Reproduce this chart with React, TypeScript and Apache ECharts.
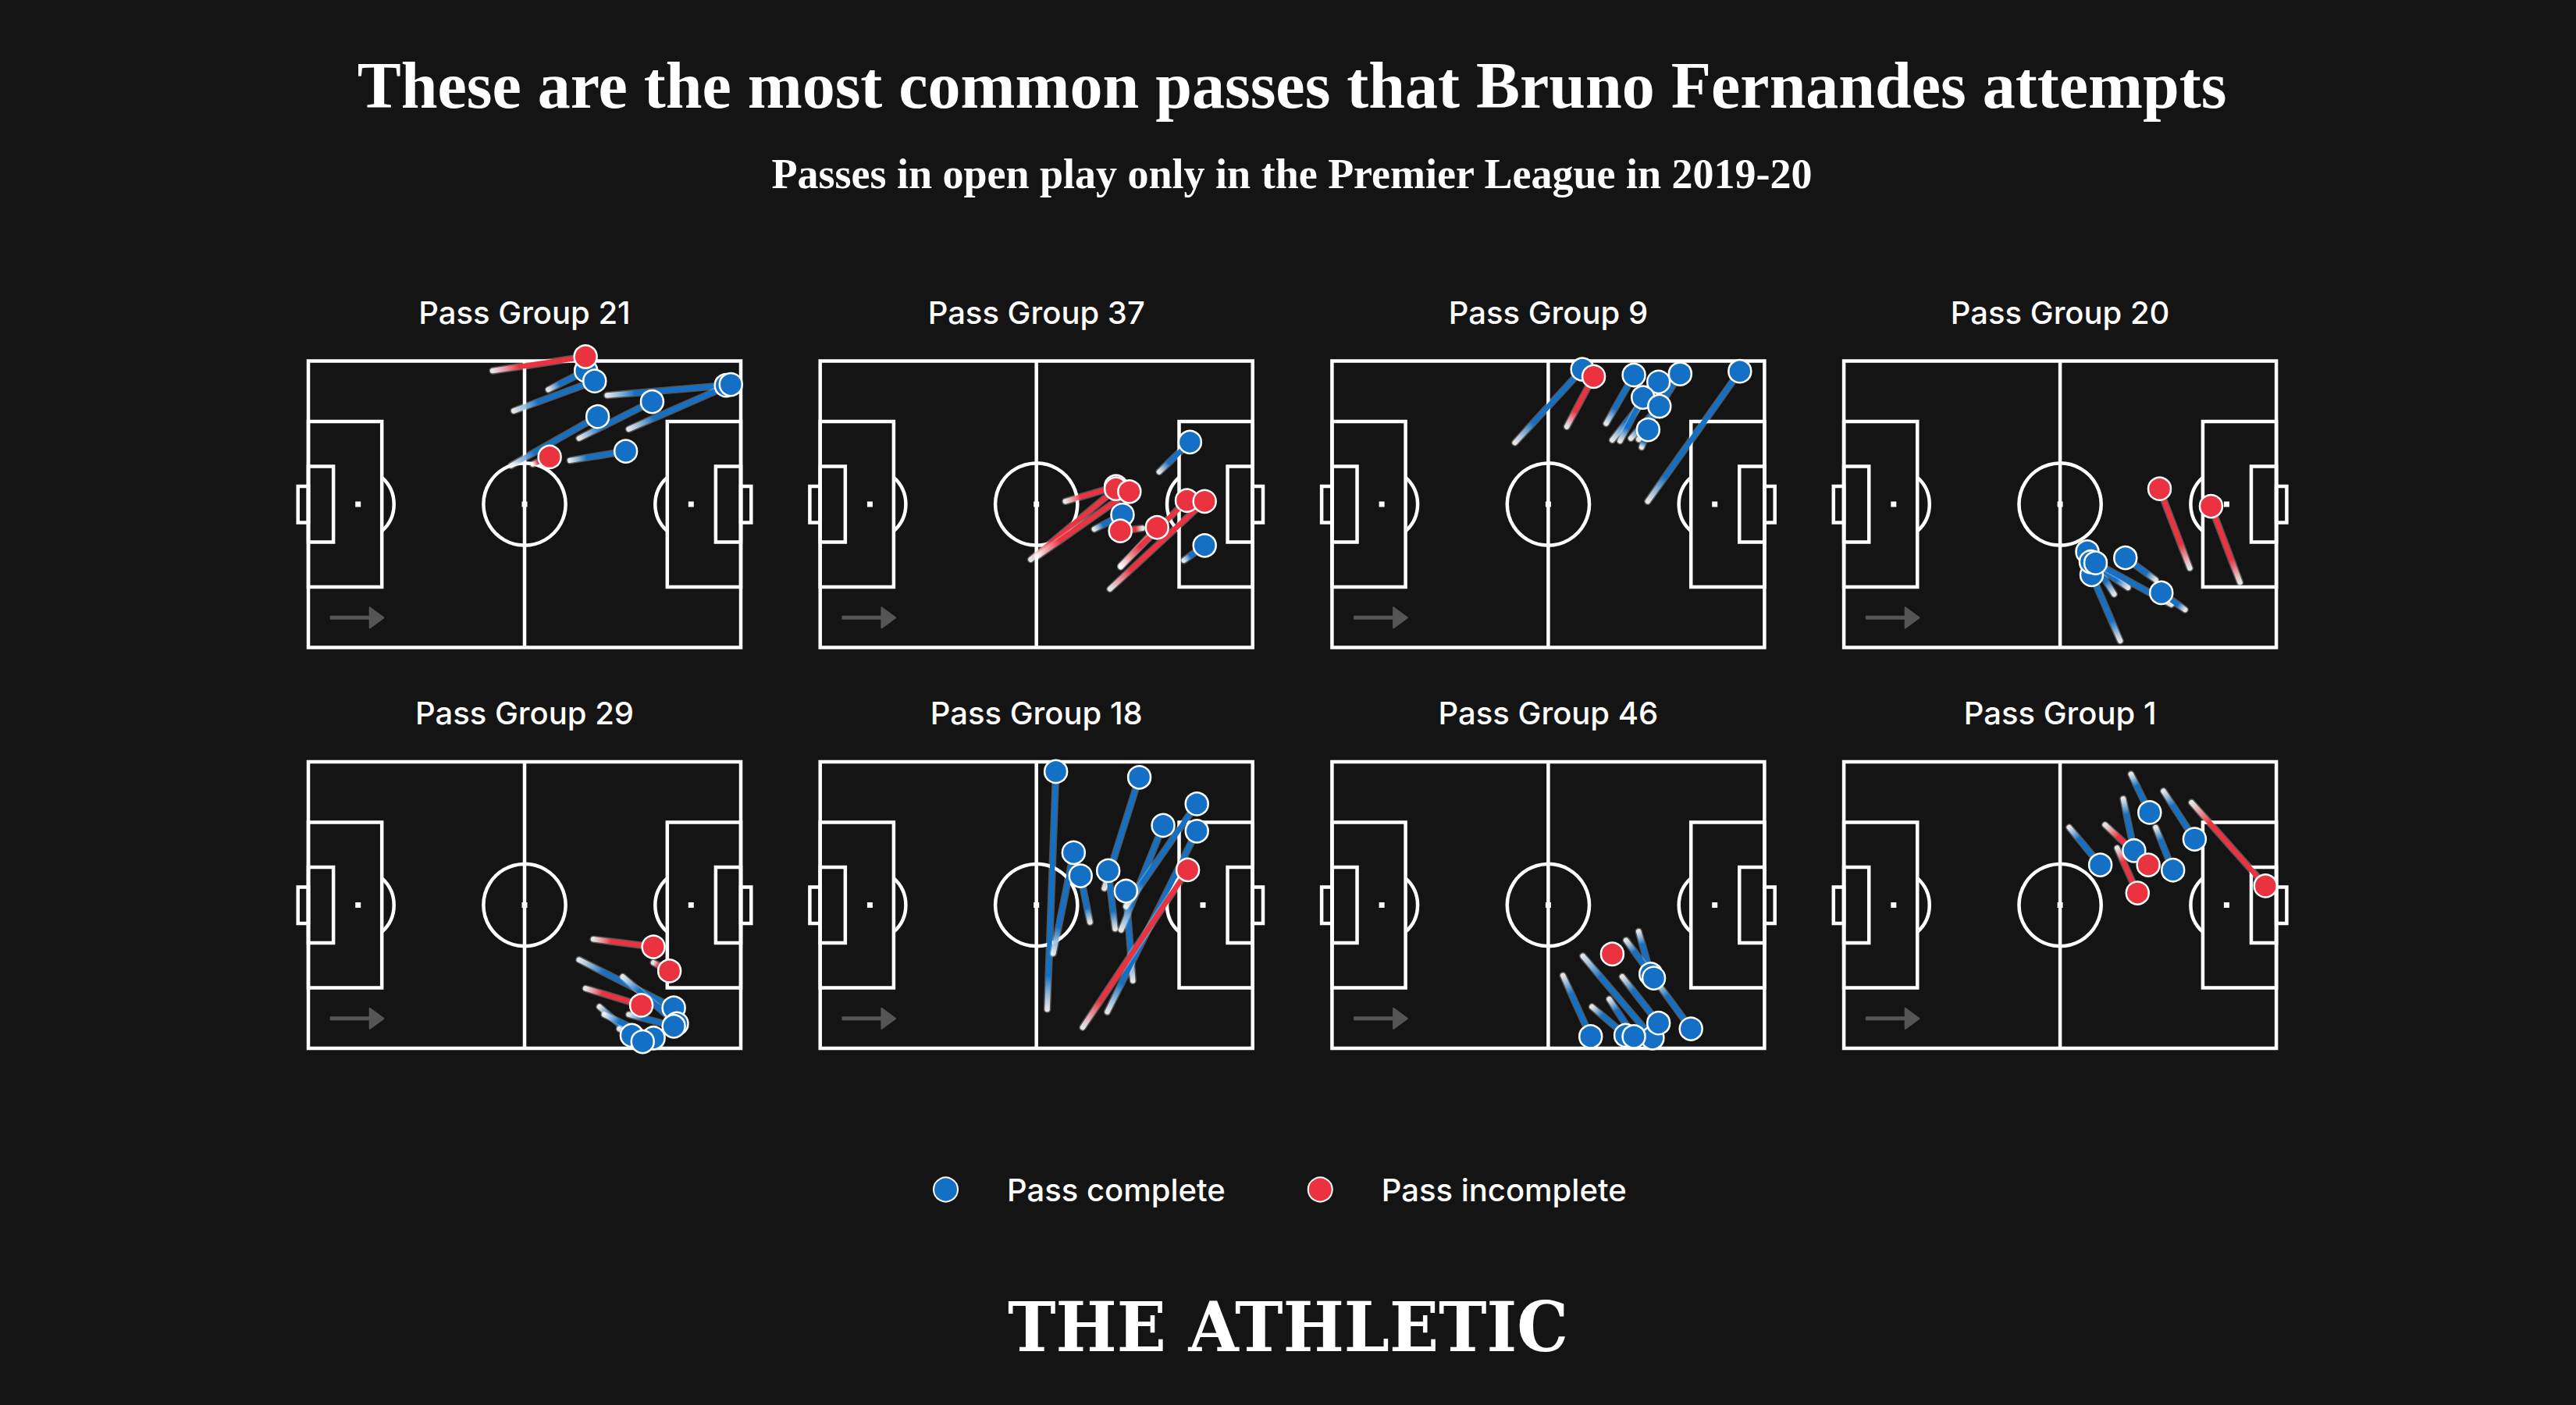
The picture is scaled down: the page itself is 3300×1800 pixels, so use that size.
import React, { useEffect, useRef } from "react";
import * as echarts from "echarts";

// ---------- DATA ----------
const TITLE = "These are the most common passes that Bruno Fernandes attempts";
const SUBTITLE = "Passes in open play only in the Premier League in 2019-20";
const BRAND = "THE ATHLETIC";
const LEGEND_ITEMS = ["Pass complete", "Pass incomplete"];

const PASS_GROUPS = [
  "Pass Group 21",
  "Pass Group 37",
  "Pass Group 9",
  "Pass Group 20",
  "Pass Group 29",
  "Pass Group 18",
  "Pass Group 46",
  "Pass Group 1",
];

// [startX, startY, endX, endY, complete (1) / incomplete (0)]
// Opta-style pitch units 0-100, attacking left to right, y measured from the top touchline
const group21 = [
  [42.6, 3.4, 64.1, -1.5, 0],
  [55.5, 10.0, 64.2, 3.4, 1],
  [47.5, 17.4, 66.2, 7.0, 1],
  [69.1, 12.0, 96.6, 8.5, 1],
  [74.1, 23.8, 97.7, 8.2, 1],
  [62.6, 27.0, 79.5, 14.2, 1],
  [46.9, 36.5, 66.9, 19.4, 1],
  [51.9, 36.0, 55.8, 33.5, 0],
  [60.5, 34.7, 73.4, 31.5, 1],
];
const group37 = [
  [78.4, 38.7, 85.5, 28.3, 1],
  [63.4, 58.7, 69.9, 53.7, 1],
  [84.1, 69.6, 88.9, 64.4, 1],
  [56.7, 49.0, 68.4, 43.8, 0],
  [48.7, 69.3, 68.4, 44.6, 0],
  [50.2, 68.2, 71.5, 45.6, 0],
  [74.5, 58.4, 69.4, 59.3, 0],
  [69.5, 71.9, 77.9, 58.1, 0],
  [69.5, 71.5, 84.8, 48.7, 0],
  [67.0, 79.6, 88.9, 49.0, 0],
];
const group9 = [
  [42.3, 28.5, 57.9, 2.9, 1],
  [54.3, 22.9, 60.5, 5.4, 0],
  [63.4, 21.8, 69.8, 4.9, 1],
  [64.8, 27.6, 75.5, 7.3, 1],
  [66.6, 27.9, 71.9, 12.7, 1],
  [69.1, 27.0, 75.7, 15.8, 1],
  [70.9, 27.4, 80.5, 4.5, 1],
  [71.6, 30.1, 73.1, 24.0, 1],
  [73.0, 49.0, 94.3, 3.6, 1],
];
const group20 = [
  [80.0, 72.3, 73.0, 44.6, 0],
  [91.6, 77.3, 84.9, 50.7, 0],
  [63.9, 97.7, 57.3, 74.6, 1],
  [62.5, 81.4, 56.3, 66.6, 1],
  [65.7, 79.1, 57.1, 70.1, 1],
  [72.1, 76.4, 65.1, 68.7, 1],
  [75.7, 85.0, 58.2, 70.5, 1],
  [78.9, 86.8, 73.4, 80.9, 1],
];
const group29 = [
  [65.9, 61.9, 79.8, 64.6, 0],
  [79.8, 70.1, 83.5, 73.0, 0],
  [62.6, 69.1, 84.5, 85.9, 1],
  [72.7, 75.0, 85.2, 91.4, 1],
  [64.1, 79.1, 77.0, 85.0, 0],
  [67.3, 85.5, 74.8, 95.5, 1],
  [68.4, 88.2, 79.8, 96.4, 1],
  [74.1, 88.2, 84.5, 92.3, 1],
  [71.9, 93.2, 77.3, 97.7, 1],
];
const group18 = [
  [52.5, 86.4, 54.5, 3.4, 1],
  [53.9, 66.9, 58.6, 31.7, 1],
  [62.4, 56.0, 60.2, 39.8, 1],
  [65.7, 44.2, 73.8, 5.4, 1],
  [68.2, 58.3, 66.6, 38.0, 1],
  [72.3, 76.4, 70.7, 45.1, 1],
  [69.6, 58.7, 79.3, 22.2, 1],
  [70.7, 50.5, 87.1, 14.7, 1],
  [66.4, 87.3, 87.1, 24.2, 1],
  [60.7, 92.7, 85.0, 37.7, 0],
];
const group46 = [
  [63.7, 66.0, 64.8, 67.1, 0],
  [70.9, 59.2, 73.7, 74.1, 1],
  [68.0, 62.3, 74.4, 75.5, 1],
  [75.1, 76.9, 83.0, 93.2, 1],
  [58.0, 67.8, 74.1, 96.4, 1],
  [53.4, 74.6, 59.8, 95.9, 1],
  [60.1, 85.5, 67.9, 95.5, 1],
  [64.1, 82.8, 69.8, 95.9, 1],
  [67.1, 75.0, 75.5, 91.2, 1],
];
const group1 = [
  [52.1, 22.9, 59.3, 36.0, 1],
  [60.4, 22.0, 70.4, 36.0, 0],
  [64.6, 12.9, 67.1, 31.0, 1],
  [63.2, 30.1, 67.9, 45.8, 0],
  [66.4, 4.3, 70.7, 17.7, 1],
  [72.1, 22.9, 76.1, 37.8, 1],
  [73.9, 10.2, 81.1, 27.0, 1],
  [80.4, 14.2, 97.5, 43.3, 0],
];

const PASSES = [group21, group37, group9, group20, group29, group18, group46, group1];

// ---------- STYLE / LAYOUT ----------
const BG = "#141414";
const BLUE = "#1470c4";
const RED = "#ea3240";
const PITCH_LEFT0 = 395;
const PITCH_STEP = 655.7;
const PITCH_W = 554;
const PITCH_H = 367;
const ROW_TOPS = [462.5, 976];
const PITCH_TITLE_Y = [400, 913];
const SANS = "Inter, 'Noto Sans', sans-serif";

function pitchRenderItem(params: any, api: any) {
  const p0 = api.coord([0, 0]);
  const p1 = api.coord([100, 100]);
  const sx = (p1[0] - p0[0]) / 100;
  const sy = (p1[1] - p0[1]) / 100;
  const X = (v: number) => p0[0] + v * sx;
  const Y = (v: number) => p0[1] + v * sy;
  const LW = 4.5;
  const line = { stroke: "#ffffff", lineWidth: LW, fill: "none" };
  const rect = (ax: number, ay: number, bx: number, by: number) => ({
    type: "rect",
    shape: { x: X(ax), y: Y(ay), width: (bx - ax) * sx, height: (by - ay) * sy },
    style: { ...line },
  });
  const spot = (x: number, y: number) => ({
    type: "rect",
    shape: { x: X(x) - 3.5, y: Y(y) - 3.5, width: 7, height: 7 },
    style: { fill: "#ffffff" },
  });
  const dR = 8.3 * sx;
  const dOff = (17 - 11.5) * sx;
  const a = Math.acos(Math.min(1, dOff / dR));
  const arrowY = Y(89.6);
  const headX0 = X(14.2);
  const headX1 = X(17.4);
  return {
    type: "group",
    children: [
      rect(-2.4, 43.7, 0, 56.4),
      rect(100, 43.7, 102.4, 56.4),
      rect(0, 0, 100, 100),
      {
        type: "line",
        shape: { x1: X(50), y1: Y(0), x2: X(50), y2: Y(100) },
        style: { ...line },
      },
      {
        type: "circle",
        shape: { cx: X(50), cy: Y(50), r: 9.5 * sx },
        style: { ...line },
      },
      spot(50, 50),
      rect(0, 21.1, 17, 78.9),
      rect(83, 21.1, 100, 78.9),
      rect(0, 36.8, 5.8, 63.2),
      rect(94.2, 36.8, 100, 63.2),
      spot(11.5, 50),
      spot(88.5, 50),
      {
        type: "arc",
        shape: { cx: X(11.5), cy: Y(50), r: dR, startAngle: -a, endAngle: a, clockwise: true },
        style: { ...line },
      },
      {
        type: "arc",
        shape: { cx: X(88.5), cy: Y(50), r: dR, startAngle: Math.PI - a, endAngle: Math.PI + a, clockwise: true },
        style: { ...line },
      },
      {
        type: "line",
        shape: { x1: X(5), y1: arrowY, x2: headX0 + 2, y2: arrowY },
        style: { stroke: "#555555", lineWidth: 5 },
      },
      {
        type: "polygon",
        shape: {
          points: [
            [headX0, arrowY - 13],
            [headX1, arrowY],
            [headX0, arrowY + 13],
          ],
        },
        style: { fill: "#555555", stroke: "#555555", lineWidth: 2, lineJoin: "round" },
      },
    ],
  };
}

function passRenderItem(params: any, api: any) {
  const s = api.coord([api.value(0), api.value(1)]);
  const e = api.coord([api.value(2), api.value(3)]);
  const col = api.value(4) === 1 ? BLUE : RED;
  const dx = e[0] - s[0];
  const dy = e[1] - s[1];
  const len = Math.sqrt(dx * dx + dy * dy);
  if (len < 1) return null;
  const grad = new echarts.graphic.LinearGradient(
    s[0],
    s[1],
    e[0],
    e[1],
    [
      { offset: 0, color: "rgba(255,255,255,0.85)" },
      { offset: Math.min(0.3, 28 / len + 0.05), color: col },
      { offset: 1, color: col },
    ],
    true
  );
  const shape = { x1: s[0], y1: s[1], x2: e[0], y2: e[1] };
  return {
    type: "group",
    children: [
      { type: "line", shape, style: { stroke: "rgba(255,255,255,0.28)", lineWidth: 9.5, lineCap: "round" } },
      { type: "line", shape, style: { stroke: grad, lineWidth: 6.5, lineCap: "round" } },
    ],
  };
}

function buildOption() {
  const grid: any[] = [];
  const xAxis: any[] = [];
  const yAxis: any[] = [];
  const series: any[] = [];
  const graphic: any[] = [];

  PASSES.forEach((passes, i) => {
    const col = i % 4;
    const row = Math.floor(i / 4);
    const left = PITCH_LEFT0 + col * PITCH_STEP;
    const top = ROW_TOPS[row];
    grid.push({ left, top, width: PITCH_W, height: PITCH_H, show: false });
    xAxis.push({ type: "value", gridIndex: i, min: 0, max: 100, show: false });
    yAxis.push({ type: "value", gridIndex: i, min: 0, max: 100, inverse: true, show: false });

    series.push({
      type: "custom",
      xAxisIndex: i,
      yAxisIndex: i,
      silent: true,
      clip: false,
      z: 1,
      data: [[50, 50]],
      renderItem: pitchRenderItem,
    });
    series.push({
      type: "custom",
      xAxisIndex: i,
      yAxisIndex: i,
      silent: true,
      clip: false,
      z: 2,
      encode: { x: [0, 2], y: [1, 3] },
      data: passes,
      renderItem: passRenderItem,
    });
    series.push({
      type: "scatter",
      name: LEGEND_ITEMS[0],
      xAxisIndex: i,
      yAxisIndex: i,
      clip: false,
      z: 3,
      symbol: "circle",
      symbolSize: 29,
      itemStyle: { color: BLUE, borderColor: "#ffffff", borderWidth: 2.5, opacity: 1 },
      data: passes.filter((p) => p[4] === 1).map((p) => [p[2], p[3]]),
    });
    series.push({
      type: "scatter",
      name: LEGEND_ITEMS[1],
      xAxisIndex: i,
      yAxisIndex: i,
      clip: false,
      z: 4,
      symbol: "circle",
      symbolSize: 29,
      itemStyle: { color: RED, borderColor: "#ffffff", borderWidth: 2.5, opacity: 1 },
      data: passes.filter((p) => p[4] === 0).map((p) => [p[2], p[3]]),
    });

    graphic.push({
      type: "text",
      x: left + PITCH_W / 2,
      y: PITCH_TITLE_Y[row],
      style: {
        text: PASS_GROUPS[i],
        fill: "#ffffff",
        fontFamily: SANS,
        fontWeight: 500,
        fontSize: 40,
        align: "center",
        verticalAlign: "middle",
      },
    });
  });

  graphic.push({
    type: "text",
    x: 1655,
    y: 109,
    style: {
      text: TITLE,
      fill: "#ffffff",
      fontFamily: "'Liberation Serif', 'DejaVu Serif', serif",
      fontWeight: "bold",
      fontSize: 84,
      align: "center",
      verticalAlign: "middle",
    },
  });
  graphic.push({
    type: "text",
    x: 1655,
    y: 223,
    style: {
      text: SUBTITLE,
      fill: "#ffffff",
      fontFamily: "'Liberation Serif', 'DejaVu Serif', serif",
      fontWeight: "bold",
      fontSize: 54,
      align: "center",
      verticalAlign: "middle",
    },
  });
  graphic.push({
    type: "text",
    x: 1650,
    y: 1700,
    scaleX: 0.94,
    style: {
      text: BRAND,
      fill: "#ffffff",
      fontFamily: "'DejaVu Serif', serif",
      fontWeight: "bold",
      fontSize: 88,
      align: "center",
      verticalAlign: "middle",
    },
  });

  return {
    animation: false,
    backgroundColor: BG,
    grid,
    xAxis,
    yAxis,
    series,
    graphic,
    legend: {
      data: LEGEND_ITEMS,
      orient: "horizontal",
      left: 1190,
      top: 1499,
      icon: "circle",
      itemWidth: 31,
      itemHeight: 31,
      itemGap: 105,
      selectedMode: false,
      textStyle: {
        color: "#ffffff",
        fontFamily: SANS,
        fontWeight: 500,
        fontSize: 40,
        lineHeight: 40,
        padding: [0, 0, 0, 58],
      },
    },
  };
}

export default function App() {
  const ref = useRef<HTMLDivElement | null>(null);
  useEffect(() => {
    document.body.style.margin = "0";
    document.body.style.background = BG;
    if (!ref.current) return;
    const chart = echarts.init(ref.current, undefined, { renderer: "svg" });
    chart.setOption(buildOption() as any);
    return () => {
      chart.dispose();
    };
  }, []);
  return <div ref={ref} style={{ width: 3300, height: 1800, background: BG }} />;
}
